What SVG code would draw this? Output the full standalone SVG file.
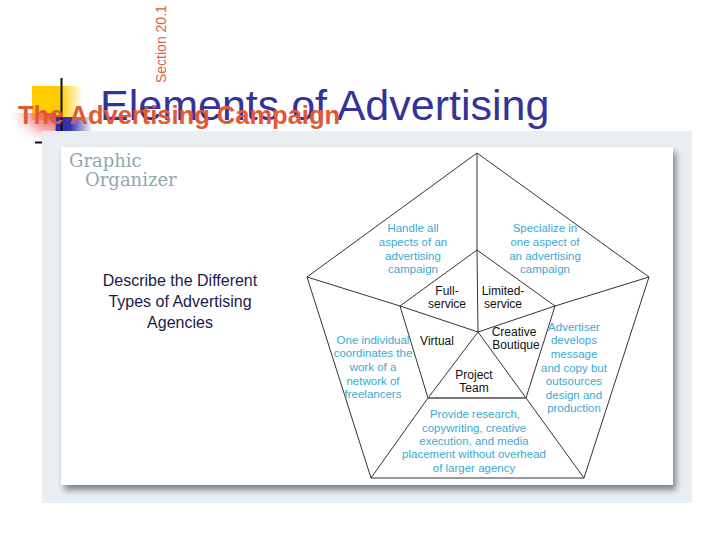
<svg xmlns="http://www.w3.org/2000/svg" width="720" height="540" viewBox="0 0 720 540">
<defs>
<linearGradient id="gY" x1="0" y1="0" x2="1" y2="0"><stop offset="0" stop-color="#ffcc00"/><stop offset="0.55" stop-color="#ffcc00"/><stop offset="1" stop-color="#ffcc00" stop-opacity="0"/></linearGradient>
<linearGradient id="gB" x1="0" y1="0" x2="1" y2="0"><stop offset="0" stop-color="#2a2aa8"/><stop offset="0.4" stop-color="#3535b0"/><stop offset="1" stop-color="#3535b0" stop-opacity="0"/></linearGradient>
<radialGradient id="gR" cx="1" cy="0" r="1.1"><stop offset="0" stop-color="#e83838"/><stop offset="0.5" stop-color="#f08080" stop-opacity="0.7"/><stop offset="1" stop-color="#ffffff" stop-opacity="0"/></radialGradient>
<filter id="sh" x="-5%" y="-5%" width="115%" height="120%"><feGaussianBlur in="SourceAlpha" stdDeviation="3"/><feOffset dx="3" dy="5" result="b"/><feFlood flood-color="#000" flood-opacity="0.45"/><feComposite in2="b" operator="in"/><feMerge><feMergeNode/><feMergeNode in="SourceGraphic"/></feMerge></filter>
</defs>
<style>
.cy{font-family:"Liberation Sans",Arial,sans-serif;font-size:11.5px;fill:#3aa9d2;text-anchor:middle}
.lb{font-family:"Liberation Sans",Arial,sans-serif;font-size:12px;fill:#111;text-anchor:middle}
.ln{stroke:#333;stroke-width:1;fill:none}
</style>
<rect width="720" height="540" fill="#fff"/>
<g id="decor">
<rect x="32" y="86" width="51" height="34" fill="url(#gY)"/>
<rect x="55" y="117" width="38" height="16" fill="url(#gB)"/>
<rect x="10" y="113" width="46" height="31" fill="url(#gR)"/>
<line x1="61.5" y1="78" x2="61.5" y2="132" stroke="#111" stroke-width="2"/>
<line x1="35" y1="142.5" x2="42" y2="142.5" stroke="#111" stroke-width="2"/>
</g>
<text id="section" transform="translate(166,83) rotate(-90)" font-family="Liberation Sans,Arial,sans-serif" font-size="14" fill="#d9603b">Section 20.1</text>
<text id="title" x="100" y="120" font-family="Liberation Sans,Arial,sans-serif" font-size="43" fill="#333399">Elements of Advertising</text>
<text id="subtitle" x="18" y="124" font-family="Liberation Sans,Arial,sans-serif" font-size="25.5" font-weight="bold" fill="#e05a38">The Advertising Campaign</text>
<g id="panel">
<rect x="42" y="131" width="650" height="372" fill="#e9eef2"/>
<rect x="61" y="147" width="612" height="338" fill="#fff" filter="url(#sh)"/>
<text x="69" y="167" font-family="DejaVu Serif,serif" font-size="18" fill="#8fa7ad">Graphic</text>
<text x="85" y="186" font-family="DejaVu Serif,serif" font-size="18" fill="#8fa7ad">Organizer</text>
<g font-family="Liberation Sans,Arial,sans-serif" font-size="16" fill="#1a1a4a" text-anchor="middle">
<text x="180" y="286">Describe the Different</text>
<text x="180" y="307">Types of Advertising</text>
<text x="180" y="328">Agencies</text>
</g>
</g>
<g id="connectors">
<polygon class="ln" points="477,153 649,277 584,478 371,478 307,277"/>
<polyline class="ln" points="477,153 477,250 478,332"/>
<polyline class="ln" points="649,277 555,306 478,332"/>
<polyline class="ln" points="307,277 400,306 478,332"/>
<polyline class="ln" points="371,478 428,398 478,332"/>
<polyline class="ln" points="584,478 526,398 478,332"/>
<polyline class="ln" points="400,306 477,250 555,306 526,398"/>
<line class="ln" x1="428" y1="398" x2="400" y2="306"/>
<line x1="428" y1="398" x2="526" y2="398" stroke="#777" stroke-width="2"/>
</g>
<g id="node-fullservice">
<text class="cy" x="413" y="232">Handle all</text>
<text class="cy" x="413" y="246">aspects of an</text>
<text class="cy" x="413" y="260">advertising</text>
<text class="cy" x="413" y="273">campaign</text>
<text class="lb" x="447" y="295">Full-</text>
<text class="lb" x="447" y="308">service</text>
</g>
<g id="node-limited">
<text class="cy" x="545" y="232">Specialize in</text>
<text class="cy" x="545" y="246">one aspect of</text>
<text class="cy" x="545" y="260">an advertising</text>
<text class="cy" x="545" y="273">campaign</text>
<text class="lb" x="503" y="295">Limited-</text>
<text class="lb" x="503" y="308">service</text>
</g>
<g id="node-creative">
<text class="lb" x="514" y="336">Creative</text>
<text class="lb" x="516" y="349">Boutique</text>
<text class="cy" x="574" y="331">Advertiser</text>
<text class="cy" x="574" y="344">develops</text>
<text class="cy" x="574" y="358">message</text>
<text class="cy" x="574" y="372">and copy but</text>
<text class="cy" x="574" y="385">outsources</text>
<text class="cy" x="574" y="399">design and</text>
<text class="cy" x="574" y="412">production</text>
</g>
<g id="node-virtual">
<text class="lb" x="437" y="345">Virtual</text>
<text class="cy" x="373" y="344">One individual</text>
<text class="cy" x="373" y="357">coordinates the</text>
<text class="cy" x="373" y="371">work of a</text>
<text class="cy" x="373" y="385">network of</text>
<text class="cy" x="373" y="398">freelancers</text>
</g>
<g id="node-project">
<text class="lb" x="474" y="379">Project</text>
<text class="lb" x="474" y="392">Team</text>
<text class="cy" x="475" y="418">Provide research,</text>
<text class="cy" x="474" y="432">copywriting, creative</text>
<text class="cy" x="474" y="445">execution, and media</text>
<text class="cy" x="474" y="458">placement without overhead</text>
<text class="cy" x="474" y="472">of larger agency</text>
</g>
</svg>
